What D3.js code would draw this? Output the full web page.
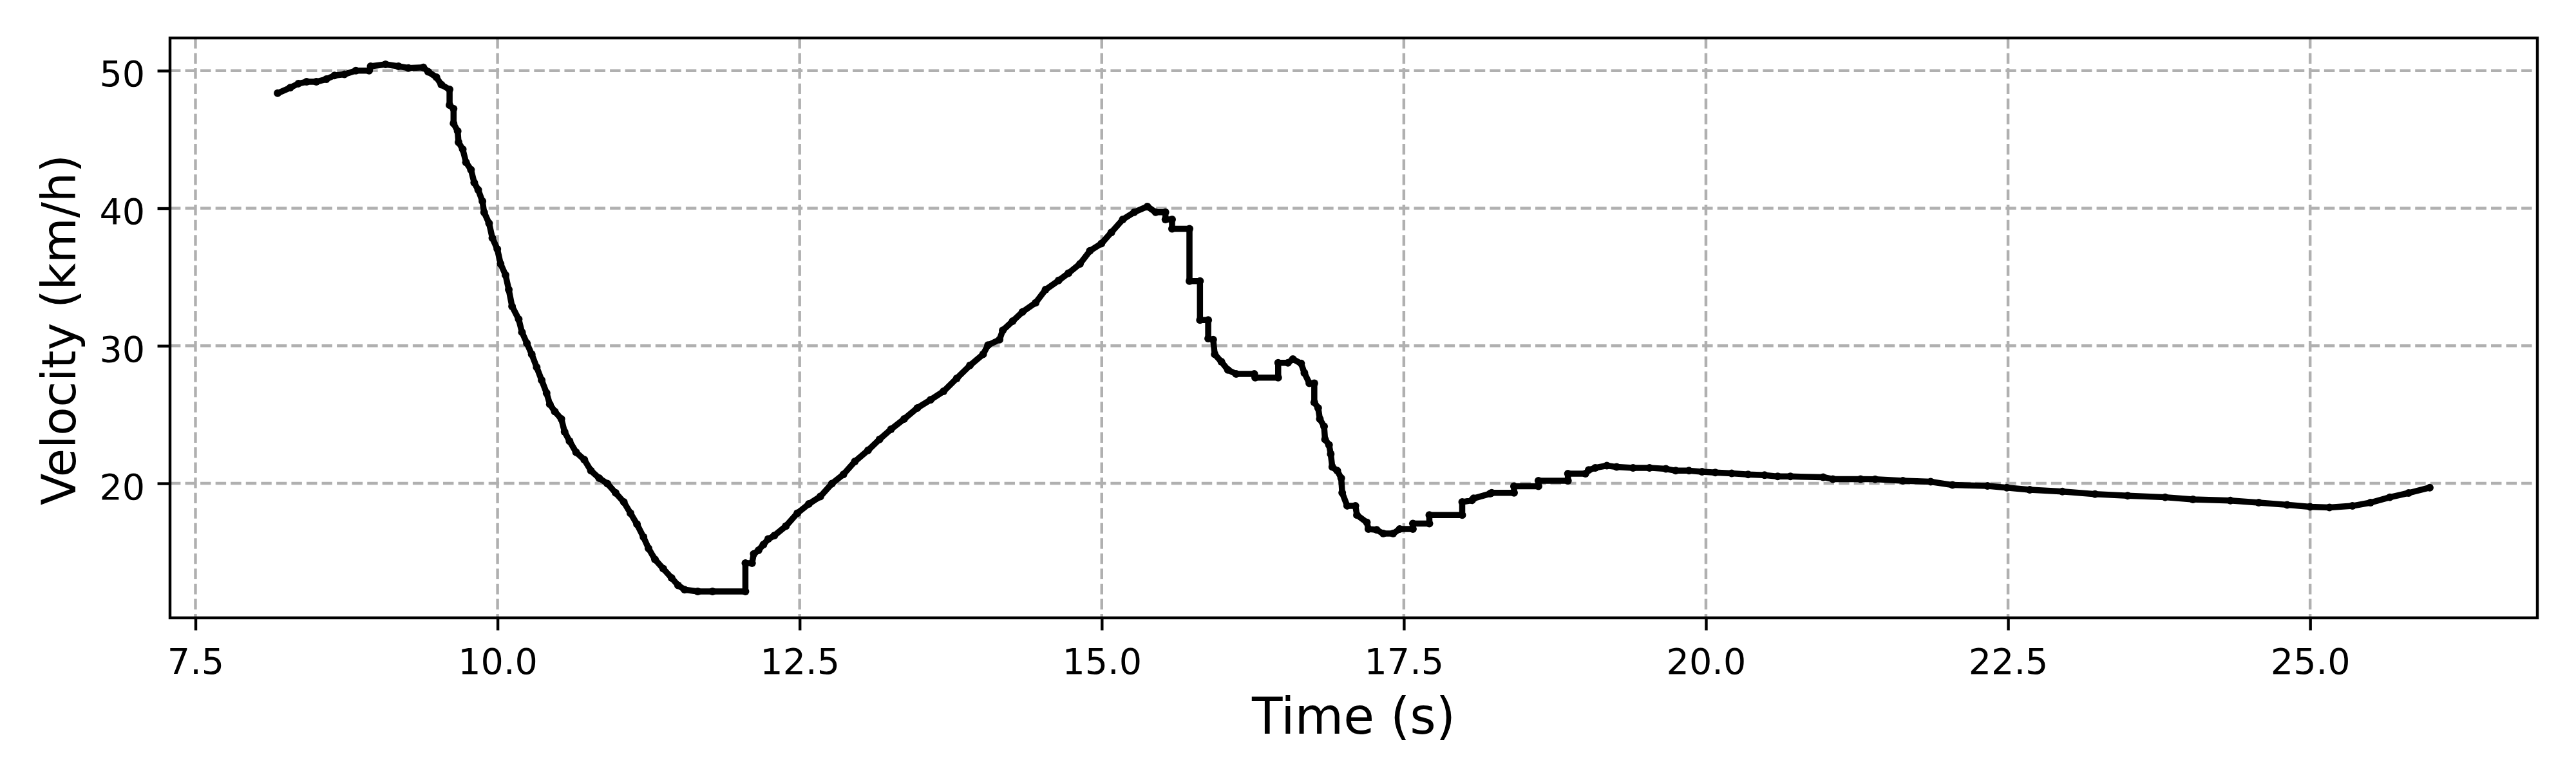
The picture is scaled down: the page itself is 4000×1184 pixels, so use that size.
<!DOCTYPE html>
<html>
<head>
<meta charset="utf-8">
<script src="https://cdn.jsdelivr.net/npm/d3@7"></script>
<style>
  html, body { margin: 0; padding: 0; background: #ffffff; }
  svg { display: block; }
  text { font-family: "DejaVu Sans", sans-serif; fill: #000; }
</style>
</head>
<body>
<svg id="chart" width="4000" height="1184"></svg>
<script>
// ---- data ----
const time = [
  8.18, 8.284, 8.352, 8.42, 8.50, 8.583, 8.651, 8.733, 8.828, 8.937, 8.95, 9.073, 9.18, 9.263, 9.386,
  9.426, 9.494, 9.535, 9.603, 9.603, 9.636, 9.636, 9.67, 9.677, 9.712, 9.739, 9.78, 9.807, 9.84, 9.875,
  9.889, 9.93, 9.957, 9.998, 10.025, 10.066, 10.093, 10.12, 10.175, 10.202, 10.243, 10.283, 10.324, 10.365,
  10.406, 10.433, 10.474, 10.528, 10.555, 10.596, 10.65, 10.718, 10.773, 10.841, 10.909, 10.977, 11.045,
  11.1, 11.154, 11.208, 11.249, 11.303, 11.371, 11.44, 11.494, 11.548, 11.657, 11.779, 12.051, 12.051,
  12.106, 12.12, 12.16, 12.2, 12.24, 12.29, 12.386, 12.481, 12.576, 12.671, 12.767, 12.862, 12.957,
  13.066, 13.161, 13.256, 13.365, 13.474, 13.583, 13.691, 13.8, 13.909, 14.018, 14.059, 14.154, 14.181,
  14.263, 14.344, 14.453, 14.535, 14.643, 14.725, 14.82, 14.902, 14.997, 15.079, 15.174, 15.269, 15.378,
  15.446, 15.527, 15.527, 15.582, 15.582, 15.726, 15.726, 15.813, 15.813, 15.881, 15.881, 15.922, 15.935,
  15.99, 16.044, 16.112, 16.262, 16.27, 16.46, 16.46, 16.541, 16.582, 16.65, 16.677, 16.718, 16.759,
  16.759, 16.791, 16.805, 16.84, 16.848, 16.881, 16.895, 16.908, 16.949, 16.982, 16.99, 17.031, 17.099,
  17.112, 17.194, 17.207, 17.275, 17.33, 17.411, 17.466, 17.575, 17.575, 17.711, 17.711, 17.983, 17.983,
  18.064, 18.078, 18.214, 18.227, 18.412, 18.412, 18.614, 18.614, 18.858, 18.858, 19.003, 19.03, 19.084,
  19.18, 19.261, 19.397, 19.533, 19.669, 19.75, 19.86, 19.968, 20.077, 20.213, 20.349, 20.485, 20.594,
  20.699, 20.97, 21.05, 21.28, 21.40, 21.63, 21.86, 22.04, 22.33, 22.49, 22.68, 22.95, 23.22, 23.49,
  23.80, 24.03, 24.34, 24.575, 24.81, 25.0, 25.16, 25.35, 25.50, 25.66, 25.815, 25.99
];
const velocity = [
  48.36, 48.76, 49.06, 49.19, 49.19, 49.38, 49.65, 49.73, 50.0, 50.0, 50.32, 50.46, 50.32, 50.19, 50.24,
  49.92, 49.52, 48.98, 48.63, 47.5, 47.23, 46.16, 45.6, 44.8, 44.28, 43.34, 42.8, 41.86, 41.33, 40.5,
  39.7, 38.9, 37.84, 37.03, 35.96, 35.15, 34.08, 32.87, 31.93, 30.99, 30.18, 29.38, 28.44, 27.5,
  26.56, 25.75, 25.22, 24.68, 23.74, 23.07, 22.26, 21.72, 20.92, 20.38, 19.98, 19.31, 18.64,
  17.83, 17.03, 16.09, 15.28, 14.47, 13.8, 13.13, 12.59, 12.27, 12.14, 12.14, 12.14, 14.2,
  14.2, 14.87, 15.14, 15.55, 15.95, 16.2, 16.89, 17.83, 18.5, 19.04, 19.98, 20.65, 21.59,
  22.4, 23.2, 23.93, 24.68, 25.48, 26.07, 26.69, 27.63, 28.57, 29.38, 30.05, 30.45, 31.12,
  31.79, 32.46, 33.13, 34.08, 34.75, 35.28, 35.96, 36.9, 37.43, 38.24, 39.18, 39.71, 40.12,
  39.71, 39.71, 39.18, 39.18, 38.51, 38.51, 34.7, 34.7, 31.87, 31.87, 30.53, 30.45, 29.38,
  28.84, 28.25, 27.95, 27.95, 27.69, 27.69, 28.76, 28.76, 29.03, 28.71, 28.03, 27.28, 27.28,
  25.89, 25.48, 24.68, 24.14, 23.2, 22.8, 22.13, 21.19, 20.92, 20.38, 19.31, 18.37, 18.37,
  17.7, 17.16, 16.68, 16.62, 16.35, 16.35, 16.68, 16.68, 17.08, 17.08, 17.7, 17.7, 18.64,
  18.77, 18.91, 19.25, 19.31, 19.31, 19.79, 19.79, 20.19, 20.19, 20.7, 20.7, 20.97, 21.13,
  21.29, 21.19, 21.13, 21.13, 21.05, 20.92, 20.92, 20.84, 20.78, 20.73, 20.65, 20.6, 20.5,
  20.5, 20.45, 20.31, 20.31, 20.3, 20.19, 20.12, 19.88, 19.81, 19.69, 19.53, 19.41, 19.22, 19.1,
  18.99, 18.83, 18.75, 18.6, 18.44, 18.29, 18.25, 18.36, 18.6, 18.99, 19.3, 19.69
];
const xTicks = [7.5, 10.0, 12.5, 15.0, 17.5, 20.0, 22.5, 25.0];
const yTicks = [20, 30, 40, 50];
const xLabel = "Time (s)";
const yLabel = "Velocity (km/h)";

// ---- layout ----
const PT = 400 / 72;            // px per point
const W = 4000, H = 1184;
const m = { left: 264, right: 3940, top: 59, bottom: 960 };

const svg = d3.select("#chart");
svg.append("rect").attr("width", W).attr("height", H).attr("fill", "#fff");

function padded(ext) {
  const r = ext[1] - ext[0];
  return [ext[0] - 0.05 * r, ext[1] + 0.05 * r];
}
const x = d3.scaleLinear().domain(padded(d3.extent(time))).range([m.left, m.right]);
const y = d3.scaleLinear().domain(padded(d3.extent(velocity))).range([m.bottom, m.top]);

const gridW = 0.8 * PT;
const dash = `${3.7 * gridW} ${1.6 * gridW}`;

// grid
const grid = svg.append("g");
grid.selectAll(".gx").data(xTicks).enter().append("line")
  .attr("x1", d => x(d)).attr("x2", d => x(d))
  .attr("y1", m.top).attr("y2", m.bottom)
  .attr("stroke", "#b0b0b0").attr("stroke-width", gridW).attr("stroke-dasharray", dash);
grid.selectAll(".gy").data(yTicks).enter().append("line")
  .attr("y1", d => y(d)).attr("y2", d => y(d))
  .attr("x1", m.left).attr("x2", m.right)
  .attr("stroke", "#b0b0b0").attr("stroke-width", gridW).attr("stroke-dasharray", dash);

// data line
const pts = time.map((t, i) => [t, velocity[i]]);
const line = d3.line().x(d => x(d[0])).y(d => y(d[1])).curve(d3.curveLinear);
svg.append("path").datum(pts)
  .attr("d", line)
  .attr("fill", "none").attr("stroke", "#000")
  .attr("stroke-width", 9.5)
  .attr("stroke-linejoin", "round").attr("stroke-linecap", "butt");
svg.append("g").selectAll("circle").data(pts).enter().append("circle")
  .attr("cx", d => x(d[0])).attr("cy", d => y(d[1]))
  .attr("r", 6).attr("fill", "#000");

// axes
const tickLen = 3.5 * PT, tickPad = 3.5 * PT, fs = 10 * PT;
const xAxis = d3.axisBottom(x).tickValues(xTicks).tickFormat(d3.format(".1f"))
  .tickSize(tickLen).tickPadding(tickPad);
const gx = svg.append("g").attr("transform", `translate(0,${m.bottom})`).call(xAxis);
gx.select(".domain").remove();
gx.selectAll(".tick line").attr("stroke", "#000").attr("stroke-width", gridW);
gx.selectAll(".tick text").attr("font-size", fs).attr("font-family", "DejaVu Sans")
  .attr("y", 87).attr("dy", 0);

const yAxis = d3.axisLeft(y).tickValues(yTicks).tickFormat(d3.format("d"))
  .tickSize(tickLen).tickPadding(tickPad);
const gy = svg.append("g").attr("transform", `translate(${m.left},0)`).call(yAxis);
gy.select(".domain").remove();
gy.selectAll(".tick line").attr("stroke", "#000").attr("stroke-width", gridW);
gy.selectAll(".tick text").attr("font-size", fs).attr("font-family", "DejaVu Sans")
  .attr("dy", 0).attr("y", 24);

// spines
svg.append("rect")
  .attr("x", m.left).attr("y", m.top)
  .attr("width", m.right - m.left).attr("height", m.bottom - m.top)
  .attr("fill", "none").attr("stroke", "#000").attr("stroke-width", gridW);

// labels
svg.append("text").attr("x", (m.left + m.right) / 2).attr("y", 1140)
  .attr("text-anchor", "middle").attr("font-size", 14 * PT).text(xLabel);
svg.append("text")
  .attr("transform", `translate(117,${(m.top + m.bottom) / 2 + 3}) rotate(-90)`)
  .attr("text-anchor", "middle").attr("font-size", 13 * PT).text(yLabel);
</script>
</body>
</html>
